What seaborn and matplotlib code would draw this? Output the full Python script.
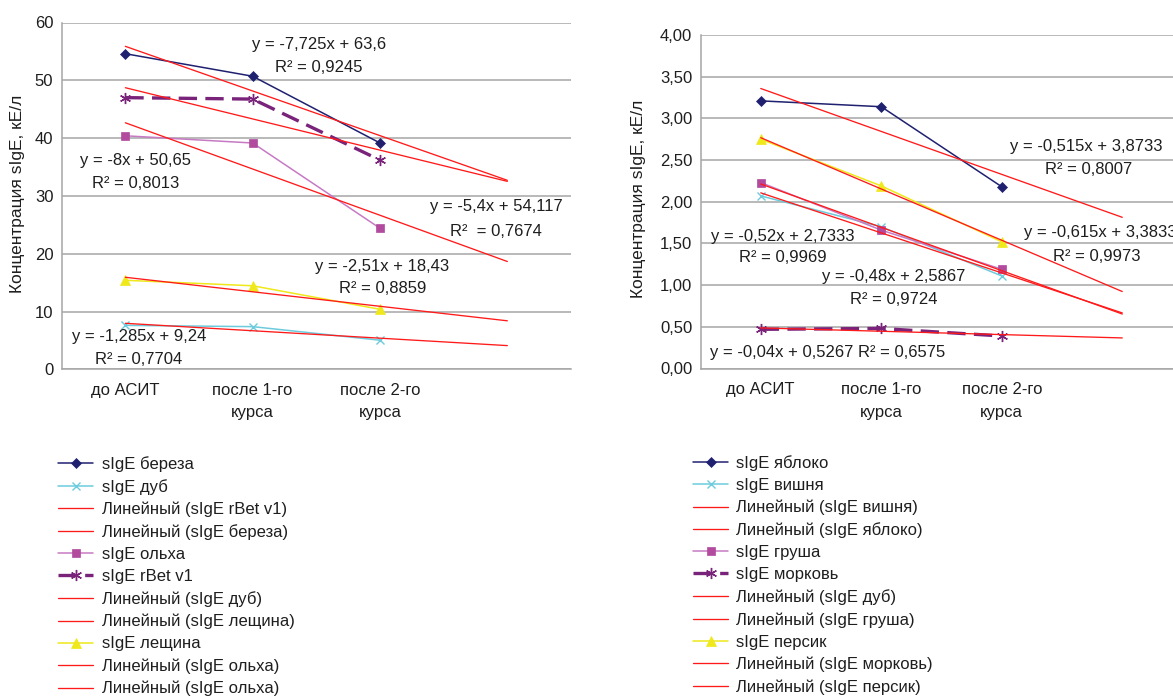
import numpy as np
import pandas as pd
import matplotlib
matplotlib.use("Agg")
import matplotlib.pyplot as plt
import seaborn as sns

# ---------------- data ----------------
categories = ["до АСИТ", "после 1-го\nкурса", "после 2-го\nкурса"]
forecast_periods = 1          # Excel trendlines are extended one period forward

# left panel
birch = [54.6, 50.7, 39.15]      # sIgE береза
oak = [7.6, 7.38, 5.03]          # sIgE дуб
alder = [40.4, 39.15, 24.4]      # sIgE ольха
rbet = [47.0, 46.75, 36.2]       # sIgE rBet v1
hazel = [15.4, 14.45, 10.38]     # sIgE лещина

# right panel
apple = [3.21, 3.14, 2.18]       # sIgE яблоко
cherry = [2.07, 1.70, 1.11]      # sIgE вишня
pear = [2.23, 1.66, 1.19]        # sIgE груша
carrot = [0.47, 0.48, 0.39]      # sIgE морковь
peach = [2.75, 2.19, 1.52]       # sIgE персик

left_yticks = [0, 10, 20, 30, 40, 50, 60]
right_yticks = [0, 0.5, 1.0, 1.5, 2.0, 2.5, 3.0, 3.5, 4.0]
ylabel = "Концентрация sIgE, кЕ/л"

left_eq = {
    "birch": ["y = -7,725x + 63,6", "R² = 0,9245"],
    "alder": ["y = -8x + 50,65", "R² = 0,8013"],
    "rbet": ["y = -5,4x + 54,117", "R²  = 0,7674"],
    "hazel": ["y = -2,51x + 18,43", "R² = 0,8859"],
    "oak": ["y = -1,285x + 9,24", "R² = 0,7704"],
}
right_eq = {
    "apple": ["y = -0,515x + 3,8733", "R² = 0,8007"],
    "peach": ["y = -0,615x + 3,3833", "R² = 0,9973"],
    "pear": ["y = -0,52x + 2,7333", "R² = 0,9969"],
    "cherry": ["y = -0,48x + 2,5867", "R² = 0,9724"],
    "carrot": ["y = -0,04x + 0,5267 R² = 0,6575"],
}

left_legend = [
    ("sIgE береза", "s:birch"), ("sIgE дуб", "s:oak"),
    ("Линейный (sIgE rBet v1)", "t:rbet"), ("Линейный (sIgE береза)", "t:birch"),
    ("sIgE ольха", "s:alder"), ("sIgE rBet v1", "s:rbet"),
    ("Линейный (sIgE дуб)", "t:oak"), ("Линейный (sIgE лещина)", "t:hazel"),
    ("sIgE лещина", "s:hazel"), ("Линейный (sIgE ольха)", "t:alder"),
    ("Линейный (sIgE ольха)", "t:alder"),
]
right_legend = [
    ("sIgE яблоко", "s:apple"), ("sIgE вишня", "s:cherry"),
    ("Линейный (sIgE вишня)", "t:cherry"), ("Линейный (sIgE яблоко)", "t:apple"),
    ("sIgE груша", "s:pear"), ("sIgE морковь", "s:carrot"),
    ("Линейный (sIgE дуб)", "t:pear"), ("Линейный (sIgE груша)", "t:pear"),
    ("sIgE персик", "s:peach"), ("Линейный (sIgE морковь)", "t:carrot"),
    ("Линейный (sIgE персик)", "t:peach"),
]

# ---------------- styles ----------------
NAVY = "#1f2170"
CYAN = "#6ccbdc"
ORCHID_LINE = "#c77ac4"
ORCHID_MK = "#b24a9e"
PURPLE = "#7a237a"
YELLOW = "#efe81a"
RED = "#ff1a1a"
GRID = "#a6a6a6"
TXT = "#1e1e1e"

styles = {
    "birch": dict(color=NAVY, lw=1.1, marker="D", ms=4.6, mfc=NAVY, mec=NAVY, mew=0.5),
    "apple": dict(color=NAVY, lw=1.1, marker="D", ms=4.6, mfc=NAVY, mec=NAVY, mew=0.5),
    "oak": dict(color=CYAN, lw=1.1, marker="x", ms=6, mec=CYAN, mew=1.0),
    "cherry": dict(color=CYAN, lw=1.1, marker="x", ms=6, mec=CYAN, mew=1.0),
    "alder": dict(color=ORCHID_LINE, lw=1.1, marker="s", ms=5.5, mfc=ORCHID_MK, mec=ORCHID_MK, mew=0.5),
    "pear": dict(color=ORCHID_LINE, lw=1.1, marker="s", ms=5.5, mfc=ORCHID_MK, mec=ORCHID_MK, mew=0.5),
    "rbet": dict(color=PURPLE, lw=2.4, ls=(0, (5.5, 2.5)), marker=(6, 2, 0), ms=8, mec=PURPLE, mew=1.0),
    "carrot": dict(color=PURPLE, lw=2.4, ls=(0, (5.5, 2.5)), marker=(6, 2, 0), ms=8, mec=PURPLE, mew=1.0),
    "hazel": dict(color=YELLOW, lw=1.1, marker="^", ms=6.5, mfc=YELLOW, mec=YELLOW, mew=0.5),
    "peach": dict(color=YELLOW, lw=1.1, marker="^", ms=6.5, mfc=YELLOW, mec=YELLOW, mew=0.5),
}

sns.set_style("white")
plt.rcParams["font.family"] = ["Liberation Sans", "DejaVu Sans"]
plt.rcParams["text.color"] = TXT
plt.rcParams["axes.labelcolor"] = TXT
plt.rcParams["xtick.color"] = TXT
plt.rcParams["ytick.color"] = TXT

W, H = 1173, 697
fig = plt.figure(figsize=(W / 100, H / 100), dpi=100)


def px_axes(x0, y0, x1, y1):
    return fig.add_axes([x0 / W, 1 - y1 / H, (x1 - x0) / W, (y1 - y0) / H])


def ftext(px, py, s, size=12, **kw):
    fig.text(px / W, 1 - py / H, s, ha="center", va="center", fontsize=size, color=TXT, **kw)


xpos = np.arange(1, len(categories) + 1)


def draw_panel(ax, series, order):
    handles = {}
    for key in order:
        df = pd.DataFrame({"x": xpos, "y": series[key]})
        sns.lineplot(data=df, x="x", y="y", ax=ax, legend=False, zorder=3, **styles[key])
        handles["s:" + key] = ax.lines[-1]
    for key in order:
        slope, icpt = np.polyfit(xpos, series[key], 1)
        tx = np.array([xpos[0], xpos[-1] + forecast_periods])
        tdf = pd.DataFrame({"x": tx, "y": slope * tx + icpt})
        sns.lineplot(data=tdf, x="x", y="y", ax=ax, legend=False, color=RED, lw=0.95, zorder=4)
        handles["t:" + key] = ax.lines[-1]
    return handles


def style_axes(ax, yticks, fmt):
    ax.set_xlim(0.5, len(categories) + forecast_periods + 0.5)
    ax.set_ylim(yticks[0], yticks[-1])
    ax.set_yticks(yticks)
    ax.set_yticklabels([fmt(v) for v in yticks])
    ax.set_xticks(xpos)
    ax.set_xticklabels(categories, linespacing=1.6)
    ax.set_xticks(np.arange(0.5, len(categories) + forecast_periods + 1), minor=True)
    ax.tick_params(axis="x", which="major", length=0, pad=10, labelsize=12)
    ax.tick_params(axis="x", which="minor", length=4, width=1, color=GRID, direction="out")
    ax.tick_params(axis="y", length=4, width=1, color=GRID, direction="out", pad=2, labelsize=12)
    ax.grid(axis="y", color=GRID, lw=1.1)
    ax.set_axisbelow(True)
    for side in ("top", "right"):
        ax.spines[side].set_visible(False)
    for side in ("left", "bottom"):
        ax.spines[side].set_color(GRID)
        ax.spines[side].set_linewidth(1.1)
    ax.set_xlabel("")
    ax.set_ylabel("")


# ---------------- left panel ----------------
axL = px_axes(61.7, 22.5, 571, 369.3)
left_series = {"birch": birch, "oak": oak, "alder": alder, "rbet": rbet, "hazel": hazel}
hL = draw_panel(axL, left_series, ["birch", "oak", "alder", "rbet", "hazel"])
style_axes(axL, left_yticks, lambda v: f"{v:d}")

# ---------------- right panel ----------------
axR = px_axes(700.5, 35, 1182.5, 368.5)
right_series = {"apple": apple, "cherry": cherry, "pear": pear, "carrot": carrot, "peach": peach}
hR = draw_panel(axR, right_series, ["apple", "cherry", "pear", "carrot", "peach"])
style_axes(axR, right_yticks, lambda v: f"{v:.2f}".replace(".", ","))

# y labels
ftext(18, 194, ylabel, size=12.5, rotation=90)
ftext(638, 199, ylabel, size=12.5, rotation=90)

# trendline equations
ftext(319, 45, left_eq["birch"][0]); ftext(319, 67, left_eq["birch"][1])
ftext(135, 161, left_eq["alder"][0]); ftext(135.5, 184, left_eq["alder"][1])
ftext(496, 207, left_eq["rbet"][0]); ftext(496, 231, left_eq["rbet"][1])
ftext(382, 266, left_eq["hazel"][0]); ftext(382.5, 289, left_eq["hazel"][1])
ftext(139.5, 337, left_eq["oak"][0]); ftext(139, 360, left_eq["oak"][1])

ftext(1086, 147, right_eq["apple"][0]); ftext(1089, 170, right_eq["apple"][1])
ftext(1100, 233, right_eq["peach"][0]); ftext(1097, 257, right_eq["peach"][1])
ftext(783, 236, right_eq["pear"][0]); ftext(783, 258, right_eq["pear"][1])
ftext(894, 277, right_eq["cherry"][0]); ftext(894, 300, right_eq["cherry"][1])
ftext(828, 352, right_eq["carrot"][0])

# legends
leg_kw = dict(loc="upper left", frameon=False, borderpad=0, borderaxespad=0,
              handlelength=2.1, handletextpad=0.5, labelspacing=0.42, fontsize=12,
              numpoints=1)
fig.legend([hL[k] for _, k in left_legend], [l for l, _ in left_legend],
           bbox_to_anchor=(58.3 / W, 1 - 456 / H), **leg_kw)
fig.legend([hR[k] for _, k in right_legend], [l for l, _ in right_legend],
           bbox_to_anchor=(693 / W, 1 - 455 / H), **leg_kw)

fig.savefig("out.png", dpi=100)
